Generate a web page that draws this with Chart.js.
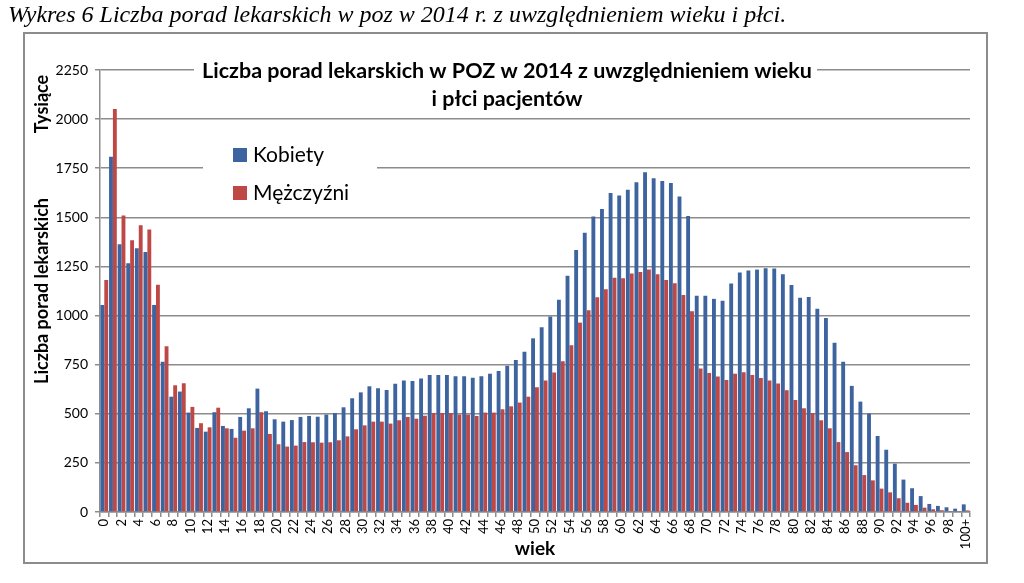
<!DOCTYPE html>
<html>
<head>
<meta charset="utf-8">
<script src="https://cdn.jsdelivr.net/npm/chart.js@4"></script>
<style>
  html, body { margin: 0; padding: 0; background: #fff; }
  canvas { display: block; }
</style>
</head>
<body>
<canvas id="wykres" width="1024" height="583"></canvas>
<script>
// Wiek pacjentów (kategorie)
const ages = ['0','1','2','3','4','5','6','7','8','9','10','11','12','13','14','15','16','17','18','19',
  '20','21','22','23','24','25','26','27','28','29','30','31','32','33','34','35','36','37','38','39',
  '40','41','42','43','44','45','46','47','48','49','50','51','52','53','54','55','56','57','58','59',
  '60','61','62','63','64','65','66','67','68','69','70','71','72','73','74','75','76','77','78','79',
  '80','81','82','83','84','85','86','87','88','89','90','91','92','93','94','95','96','97','98','99','100+'];

// Liczba porad, tysiące
const kobiety = [1054,1809,1363,1266,1342,1324,1054,765,587,613,
  506,428,409,508,438,423,484,528,628,513,
  472,460,468,484,489,485,496,504,533,579,
  609,640,630,621,653,670,667,679,698,698,
  698,691,691,684,691,704,718,745,774,816,
  884,940,995,1081,1203,1334,1422,1504,1543,1624,
  1611,1640,1679,1730,1699,1685,1675,1606,1507,1101,
  1101,1085,1076,1163,1219,1229,1234,1241,1239,1210,
  1156,1091,1095,1035,988,862,765,642,562,501,
  387,317,246,165,121,81,41,31,24,17,39];

const mezczyzni = [1181,2052,1509,1383,1460,1438,1157,844,645,655,
  535,452,431,531,426,378,414,426,508,397,
  345,333,338,356,355,353,355,365,385,421,
  441,460,460,450,467,484,475,490,504,504,
  504,496,496,489,506,506,523,538,557,587,
  635,669,710,767,849,964,1027,1093,1134,1193,
  1190,1214,1222,1234,1210,1181,1164,1105,1022,731,
  708,690,672,704,711,698,682,669,654,620,
  570,528,504,467,426,356,305,238,188,161,
  119,100,70,47,36,22,14,9,5,3,8];

const yTicks = [0,250,500,750,1000,1250,1500,1750,2000,2250];

const captionText = 'Wykres 6 Liczba porad lekarskich w poz w 2014 r. z uwzględnieniem wieku i płci.';
const titleLines = ['Liczba porad lekarskich w POZ w 2014 z uwzględnieniem wieku', 'i płci pacjentów'];
const unitText = 'Tysiące';

const gridColor = '#8c8c8c';

// Podpis nad wykresem i ramka
const framePlugin = {
    id: 'frame',
    beforeDraw: function(chart) {
        const ctx = chart.ctx;
        ctx.save();
        ctx.fillStyle = '#fff';
        ctx.fillRect(0, 0, chart.width, chart.height);
        ctx.fillStyle = '#000';
        ctx.font = 'italic 24px "Liberation Serif"';
        ctx.textBaseline = 'middle';
        ctx.fillText(captionText, 8, 16);
        ctx.strokeStyle = '#8c8c8c';
        ctx.lineWidth = 2;
        ctx.strokeRect(24, 33, 963, 530);
        // Tysiące
        ctx.translate(42, 104);
        ctx.rotate(-Math.PI / 2);
        ctx.font = 'bold 18px Lato';
        ctx.textAlign = 'center';
        ctx.fillText(unitText, 0, 0);
        ctx.restore();
    }
};

// Tytuł i legenda na tle siatki
const overlayPlugin = {
    id: 'overlay',
    beforeDatasetsDraw: function(chart) {
        const ctx = chart.ctx;
        ctx.save();
        ctx.fillStyle = '#fff';
        ctx.fillRect(194, 56, 623, 58);
        ctx.fillRect(203, 128, 174, 84);

        ctx.fillStyle = '#000';
        ctx.font = 'bold 21.5px Lato';
        ctx.textAlign = 'center';
        ctx.textBaseline = 'middle';
        ctx.fillText(titleLines[0], 507, 71);
        ctx.fillText(titleLines[1], 507, 99);

        ctx.textAlign = 'left';
        ctx.font = '21px Lato';
        chart.data.datasets.forEach(function(ds, i) {
            const y = 155 + i * 38;
            ctx.fillStyle = ds.backgroundColor;
            ctx.fillRect(233, y - 7, 14, 14);
            ctx.fillStyle = '#000';
            ctx.fillText(ds.label, 253, y);
        });
        ctx.restore();
    }
};

new Chart(document.getElementById('wykres'), {
    type: 'bar',
    data: {
        labels: ages,
        datasets: [
            { label: 'Kobiety', data: kobiety, backgroundColor: '#3e64a0' },
            { label: 'Mężczyźni', data: mezczyzni, backgroundColor: '#be4846' }
        ]
    },
    options: {
        responsive: false,
        animation: false,
        events: [],
        categoryPercentage: 0.9,
        barPercentage: 1.0,
        layout: { padding: { left: 24, right: 54, top: 70, bottom: 14 } },
        plugins: {
            legend: { display: false },
            title: { display: false },
            tooltip: { enabled: false }
        },
        scales: {
            x: {
                afterFit: function(scale) { scale.height = 57; },
                grid: { drawOnChartArea: false, offset: true, color: gridColor, lineWidth: 1.5, tickLength: 5 },
                border: { color: gridColor, width: 1.5 },
                ticks: {
                    autoSkip: false,
                    minRotation: 90,
                    maxRotation: 90,
                    padding: 2,
                    color: '#000',
                    font: { family: 'Lato', size: 13 },
                    callback: function(value, index) {
                        return index % 2 === 0 ? ages[index] : '';
                    }
                },
                title: {
                    display: true,
                    text: 'wiek',
                    color: '#000',
                    font: { family: 'Lato', size: 19, weight: 'bold' },
                    padding: { top: 0, bottom: 9 }
                }
            },
            y: {
                min: 0,
                max: 2250,
                afterFit: function(scale) { scale.width = 76; },
                afterBuildTicks: function(scale) {
                    scale.ticks = yTicks.map(function(v) { return { value: v }; });
                },
                grid: { color: gridColor, lineWidth: 1.5, tickLength: 5 },
                border: { color: gridColor, width: 1.5 },
                ticks: {
                    padding: 7,
                    color: '#000',
                    font: { family: 'Lato', size: 14 },
                    callback: function(value) { return String(value); }
                },
                title: {
                    display: true,
                    text: 'Liczba porad lekarskich',
                    color: '#000',
                    font: { family: 'Lato', size: 18, weight: 'bold' },
                    padding: { top: 7, bottom: 0 }
                }
            }
        }
    },
    plugins: [framePlugin, overlayPlugin]
});
</script>
</body>
</html>
